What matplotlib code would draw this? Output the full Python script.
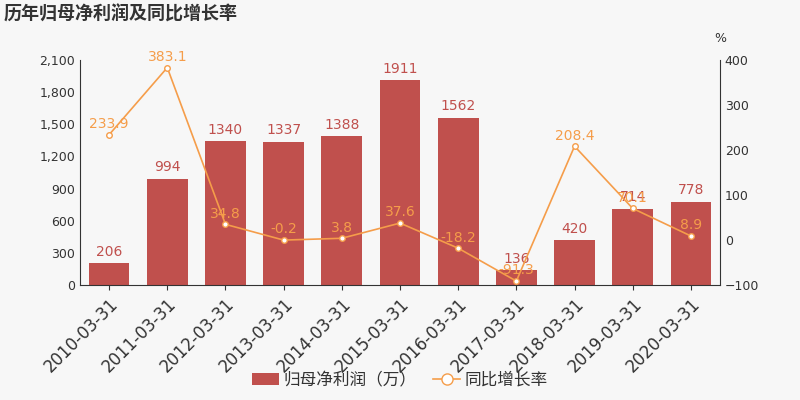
import numpy as np
import matplotlib
matplotlib.use("Agg")
import matplotlib.pyplot as plt
from matplotlib.ticker import FuncFormatter

plt.rcParams['font.family'] = ['DejaVu Sans', 'Noto Sans CJK SC']

dates = ["2010-03-31", "2011-03-31", "2012-03-31", "2013-03-31", "2014-03-31",
         "2015-03-31", "2016-03-31", "2017-03-31", "2018-03-31", "2019-03-31",
         "2020-03-31"]
profit = [206, 994, 1340, 1337, 1388, 1911, 1562, 136, 420, 714, 778]
growth = [233.9, 383.1, 34.8, -0.2, 3.8, 37.6, -18.2, -91.3, 208.4, 70.1, 8.9]

bg = "#f7f7f7"
bar_c = "#c0504d"
line_c = "#f59d4a"

fig = plt.figure(figsize=(8, 4), dpi=100, facecolor=bg)
ax = fig.add_axes([0.1, 0.2875, 0.8, 0.5625], facecolor=bg)
x = np.arange(len(dates))
ax.bar(x, profit, width=0.7, color=bar_c, label="归母净利润（万）")
for xi, v in zip(x, profit):
    ax.text(xi, v + 40, str(v), ha="center", va="bottom", color=bar_c, fontsize=10)
ax.set_ylim(0, 2100)
ax.set_yticks(np.arange(0, 2101, 300))
ax.yaxis.set_major_formatter(FuncFormatter(lambda v, p: f"{int(v):,}"))
ax.set_xlim(-0.5, len(dates) - 0.5)
ax.set_xticks(x)
ax.set_xticklabels(dates, rotation=45, ha="right", rotation_mode="anchor", fontsize=12)
ax.tick_params(axis="y", labelsize=9, length=0, colors="#333333")
ax.tick_params(axis="x", colors="#333333")
for s in ["top", "right"]:
    ax.spines[s].set_visible(False)
ax.spines["left"].set_color("#333333")
ax.spines["bottom"].set_color("#333333")

ax2 = ax.twinx()
ax2.plot(x, growth, color=line_c, marker="o", markersize=4, markerfacecolor="white",
         linewidth=1.2, label="同比增长率")
for xi, v in zip(x, growth):
    ax2.text(xi, v + 8, f"{v}", ha="center", va="bottom", color=line_c, fontsize=10)
ax2.set_ylim(-100, 400)
ax2.set_yticks(np.arange(-100, 401, 100))
ax2.tick_params(axis="y", labelsize=9, length=0, colors="#333333")
for s in ["top", "left", "bottom"]:
    ax2.spines[s].set_visible(False)
ax2.spines["right"].set_color("#333333")

fig.text(0.005, 0.965, "历年归母净利润及同比增长率", fontsize=13, fontweight="bold",
         color="#333333", va="center", family=['Noto Sans CJK SC'])
fig.text(0.9, 0.895, "%", fontsize=9, color="#333333", ha="center")

h1, l1 = ax.get_legend_handles_labels()
h2, l2 = ax2.get_legend_handles_labels()
fig.legend(h1 + h2, l1 + l2, loc="lower center", bbox_to_anchor=(0.5, -0.01), ncol=2,
           frameon=False, fontsize=12, labelcolor="#333333", handlelength=1.6,
           handletextpad=0.3, columnspacing=1.0, markerscale=2,
           prop={'family': ['Noto Sans CJK SC'], 'size': 12})

fig.savefig("out.png", facecolor=bg)
